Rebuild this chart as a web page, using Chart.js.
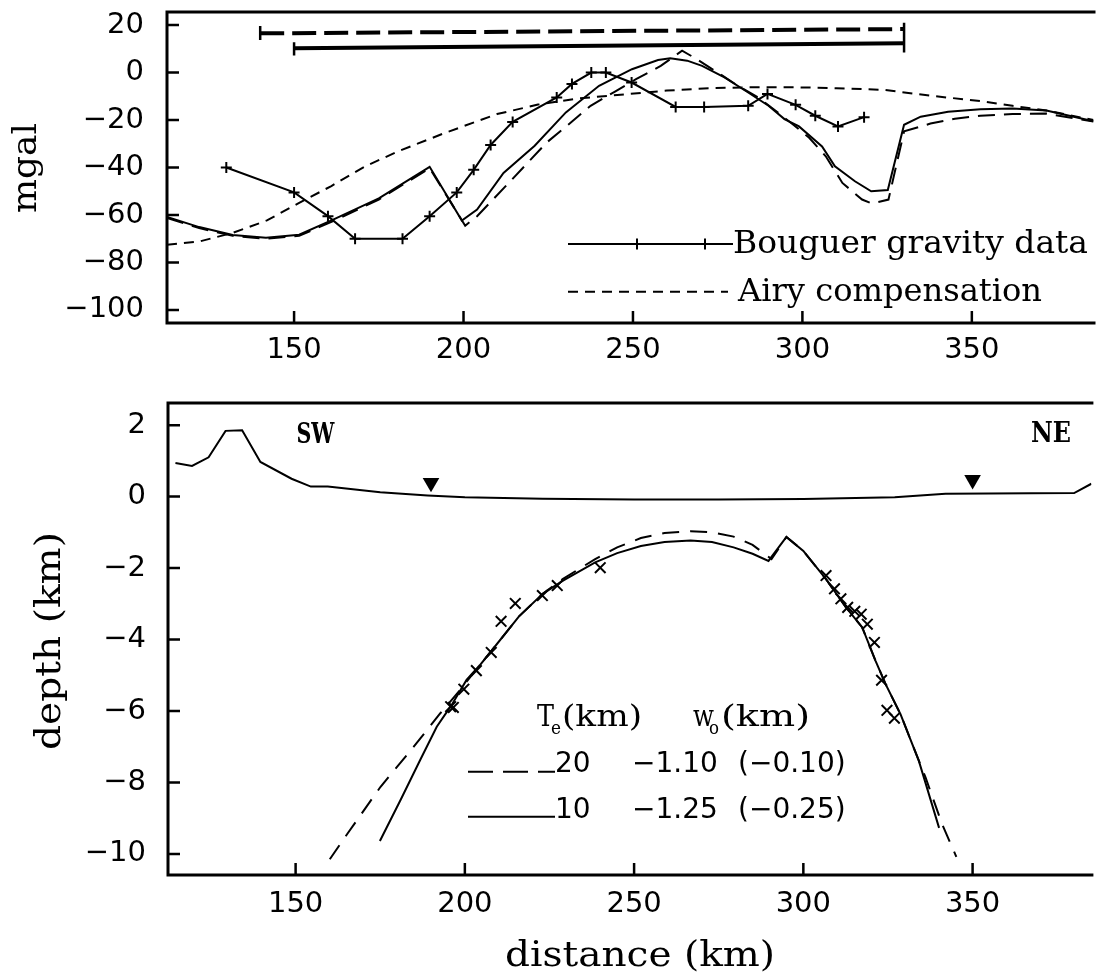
<!DOCTYPE html>
<html><head><meta charset="utf-8">
<script src="https://cdn.jsdelivr.net/npm/chart.js@4.4.1/dist/chart.umd.min.js"></script>
<style>
html,body{margin:0;padding:0;background:#fff;overflow:hidden;}
#wrapTop{position:absolute;left:0;top:0;width:1101px;height:370px;}
#wrapBot{position:absolute;left:0;top:380px;width:1101px;height:596px;}
canvas{display:block;}
</style></head><body>
<div id="wrapTop"><canvas id="cTop" width="1101" height="370"></canvas></div>
<div id="wrapBot"><canvas id="cBot" width="1101" height="596"></canvas></div>
<script>
// ---------- tick labels ----------
const distTicks = [150, 200, 250, 300, 350];
const gravTicks = [20, 0, -20, -40, -60, -80, -100];
const depthTicks = [2, 0, -2, -4, -6, -8, -10];

// ---------- top panel: gravity (mgal) ----------
const bouguerDist = [130,150,160,168,182,190,198,203,208,214.5,227.5,232,237.7,242,249.6,262.6,271,284,289.7,298,303.8,310.5,318.2];
const bouguerGrav = [-40,-50.5,-60.5,-70,-70,-60.5,-50.5,-41,-30.5,-20.8,-10.5,-4.8,0,0,-4.2,-14.5,-14.5,-14,-9,-13.6,-18.2,-22.7,-18.8];

const airyDist = [112.5,122,132,142,151.5,161,171,180.7,194.4,209.9,222,233.3,248.9,260,272.3,285,297.7,310,324,338,352.5,362,372,385.9];
const airyGrav = [-72.5,-71.2,-67.5,-62.3,-54.9,-47.8,-39.5,-33.2,-25.5,-17.5,-13.5,-11,-9,-7.6,-6.6,-6.2,-6.2,-6.6,-7.3,-9.8,-12,-14,-16,-20];

const model10Dist = [112.5,122,131.9,141.7,151.5,161.2,175,190,199.5,204,211.8,221,230.2,240,249.7,257.4,261,266,270.4,277,284,290,294.7,299,305.8,309.6,315.5,320.3,325.2,330,334.9,343,352.5,362,372,385.9];
const model10Grav = [-60.8,-65.1,-68.4,-69.6,-68.3,-62.2,-53,-39.7,-62.3,-57.7,-42.3,-30.8,-16.8,-5.6,1.4,5.3,6,5,2.8,-2,-8.4,-14,-19.6,-22.7,-31.1,-39.5,-45.8,-50,-49.5,-22,-18.6,-16.5,-15.5,-15.2,-16,-20.5];

const model20Dist = [112.5,122,131.9,141.7,151.5,161.2,175,190,200.5,204,213.8,224.6,230.9,237.5,244.7,250.9,258.2,264.5,268.4,275,281,287,292,297.7,302,306.9,311.8,317.6,320.5,325.4,330,337.8,345,352.5,362,372,385.9];
const model20Grav = [-61.3,-65.5,-68.8,-70,-68.8,-62.8,-53.5,-40.3,-64.5,-60.5,-45.8,-29.4,-22,-14,-8,-2.8,2.8,9.2,6,0,-5.6,-10.5,-16,-22.4,-27.5,-35.3,-46.5,-53.5,-55.2,-53.5,-24.8,-21.5,-19.5,-18.2,-17.5,-17.3,-20.6];

const barDashedDist = [140, 330];
const barDashedGrav = [16.5, 18.3];
const barSolidDist = [150, 330];
const barSolidGrav = [10.2, 12.3];
const capDist = [140, 150, 330];
const capLow = [13.7, 7.2, 8.4];
const capHigh = [19.6, 12.8, 21];

// ---------- bottom panel: depth (km) ----------
const topoDist = [114.5,119.4,124.3,129.3,134.2,139.6,148.8,154.5,159.5,175,189,200,223,250,275,300,327,342,380,385.1];
const topoElev = [0.94,0.86,1.1,1.84,1.86,0.97,0.5,0.28,0.28,0.12,0.03,-0.02,-0.06,-0.08,-0.08,-0.07,-0.02,0.08,0.1,0.36];

const flex20Dist = [160.1,165.4,175.1,184.9,192.7,198.5,204.4,208,216,223,229,238.5,245,252,259,266.7,273,279.4,285,290.6,295,300,306.7,312.6,317.4,321.3,324.3,328.7,336.1,341,345.2];
const flex20Depth = [-10.15,-9.42,-8.12,-7.0,-6.07,-5.42,-4.72,-4.3,-3.35,-2.72,-2.3,-1.75,-1.42,-1.16,-1.02,-0.97,-1.0,-1.12,-1.35,-1.75,-1.13,-1.52,-2.31,-3.1,-3.66,-4.59,-5.25,-6.09,-7.86,-9.17,-10.08];

const flex10Dist = [174.9,181,186.8,191.7,196.1,200.5,204.4,208,216,223,229,238.5,245,252,259,266.7,273,279.4,285,289.7,295,300,306.7,312.6,317.4,321.3,324.3,328.7,334.1,340.1];
const flex10Depth = [-9.64,-8.49,-7.37,-6.44,-5.83,-5.13,-4.72,-4.3,-3.35,-2.72,-2.35,-1.84,-1.58,-1.38,-1.27,-1.23,-1.27,-1.42,-1.6,-1.8,-1.13,-1.52,-2.31,-3.1,-3.66,-4.59,-5.25,-6.09,-7.39,-9.27];

const obsDist = [195.8,196.6,199.7,203.4,207.8,210.7,214.9,222.9,227.3,240,306.7,309.2,311.1,313.1,315.2,317.1,318.9,321,323.1,324.7,326.9];
const obsDepth = [-5.88,-5.9,-5.39,-4.87,-4.36,-3.49,-2.99,-2.77,-2.49,-1.99,-2.21,-2.58,-2.86,-3.1,-3.21,-3.29,-3.57,-4.08,-5.14,-5.98,-6.2];

const markDist = [190, 350];
const markElev = [0.39, 0.47];

// ---------- helpers ----------
const zip = (xs, ys) => xs.map((x, i) => ({x: x, y: ys[i]}));
const fmt = v => (v < 0 ? '\u2212' + Math.abs(v) : String(v));
const BLACK = '#000';

// draws text so that it spans width w (horizontal stretch), optional rotation
function fitText(ctx, text, x, y, w, font, align, rot) {
  ctx.save();
  ctx.font = font;
  ctx.fillStyle = BLACK;
  ctx.textBaseline = 'alphabetic';
  ctx.textAlign = 'left';
  const nat = ctx.measureText(text).width;
  ctx.translate(x, y);
  if (rot) ctx.rotate(rot);
  const total = w || nat;
  const ox = align === 'center' ? -total / 2 : (align === 'right' ? -total : 0);
  ctx.translate(ox, 0);
  ctx.scale(total / nat, 1);
  ctx.fillText(text, 0, 0);
  ctx.restore();
  return total;
}

function drawFrame(chart, tickLen) {
  const {ctx, chartArea: a, scales: {x, y}} = chart;
  ctx.save();
  ctx.strokeStyle = BLACK;
  ctx.lineCap = 'butt';
  ctx.lineWidth = 3;
  ctx.beginPath();
  ctx.moveTo(a.left, a.top); ctx.lineTo(a.right + 2, a.top);
  ctx.moveTo(a.left, a.top - 1.5); ctx.lineTo(a.left, a.bottom + 1.5);
  ctx.moveTo(a.left, a.bottom); ctx.lineTo(a.right + 2, a.bottom);
  ctx.stroke();
  ctx.lineWidth = 2.5;
  ctx.beginPath();
  x.ticks.forEach(t => {
    const px = x.getPixelForValue(t.value);
    ctx.moveTo(px, a.bottom); ctx.lineTo(px, a.bottom - tickLen);
  });
  y.ticks.forEach(t => {
    const py = y.getPixelForValue(t.value);
    ctx.moveTo(a.left, py); ctx.lineTo(a.left + tickLen, py);
  });
  ctx.stroke();
  ctx.restore();
}

function lineDs(xs, ys, width, dash) {
  return {data: zip(xs, ys), showLine: true, borderColor: BLACK, borderWidth: width,
          borderDash: dash || [], pointRadius: 0, fill: false, tension: 0};
}

const TICK_FONT = {family: 'DejaVu Sans', size: 29, lineHeight: 1.2};
function scaleX(min, max, h, pad) {
  return {
    type: 'linear', min: min, max: max,
    grid: {display: false}, border: {display: false},
    afterBuildTicks: s => { s.ticks = distTicks.map(v => ({value: v})); },
    afterFit: s => { s.height = h; s.paddingLeft = 0; s.paddingRight = 0; },
    ticks: {color: BLACK, font: TICK_FONT, padding: pad, maxRotation: 0, autoSkip: false, callback: v => fmt(v)}
  };
}
function scaleY(min, max, tickVals, w, pad) {
  return {
    type: 'linear', min: min, max: max,
    grid: {display: false}, border: {display: false},
    afterBuildTicks: s => { s.ticks = tickVals.map(v => ({value: v})); },
    afterFit: s => { s.width = w; s.paddingTop = 0; s.paddingBottom = 0; },
    ticks: {color: BLACK, font: TICK_FONT, padding: pad, autoSkip: false, callback: v => fmt(v)}
  };
}

const commonPlugins = {legend: {display: false}, tooltip: {enabled: false}, title: {display: false}};

// ---------- top chart ----------
const capSets = capDist.map((d, i) => lineDs([d, d], [capLow[i], capHigh[i]], 2.5));

const topDecor = {
  id: 'topDecor',
  afterDraw(chart) {
    const ctx = chart.ctx;
    drawFrame(chart, 12);
    fitText(ctx, 'mgal', 36, 168, 90, '33px "DejaVu Serif"', 'center', -Math.PI / 2);
    ctx.save();
    ctx.strokeStyle = BLACK; ctx.lineWidth = 2;
    ctx.beginPath(); ctx.moveTo(568, 244); ctx.lineTo(733, 244);
    [637, 705].forEach(px => { ctx.moveTo(px, 238.5); ctx.lineTo(px, 249.5); ctx.moveTo(px - 5, 244); ctx.lineTo(px + 5, 244); });
    ctx.stroke();
    ctx.setLineDash([10, 7]);
    ctx.beginPath(); ctx.moveTo(568, 291.7); ctx.lineTo(728, 291.7); ctx.stroke();
    ctx.restore();
    fitText(ctx, 'Bouguer gravity data', 733, 253, 355, '31px "DejaVu Serif"', 'left');
    fitText(ctx, 'Airy compensation', 738, 301, 304, '31px "DejaVu Serif"', 'left');
  }
};

new Chart(document.getElementById('cTop'), {
  type: 'scatter',
  data: {datasets: [
    Object.assign(lineDs(bouguerDist, bouguerGrav, 2), {pointStyle: 'cross', pointRadius: 5.5, pointBorderWidth: 2, pointBorderColor: BLACK}),
    lineDs(airyDist, airyGrav, 2, [10, 7]),
    lineDs(model10Dist, model10Grav, 2),
    lineDs(model20Dist, model20Grav, 2, [17, 9]),
    lineDs(barDashedDist, barDashedGrav, 4, [24, 8]),
    lineDs(barSolidDist, barSolidGrav, 4),
    ...capSets
  ]},
  options: {
    responsive: false, maintainAspectRatio: false, animation: false, devicePixelRatio: 1,
    layout: {padding: {top: 12, left: 0, right: 0, bottom: 0}},
    plugins: commonPlugins,
    scales: {x: scaleX(112.5, 385.9, 47, 2), y: scaleY(-105.5, 25.5, gravTicks, 167, 15)}
  },
  plugins: [topDecor]
});

// ---------- bottom chart ----------
const OFF = 380;
const botDecor = {
  id: 'botDecor',
  afterDraw(chart) {
    const ctx = chart.ctx;
    drawFrame(chart, 12);
    fitText(ctx, 'depth (km)', 60, 641 - OFF, 218, '36px "DejaVu Serif"', 'center', -Math.PI / 2);
    fitText(ctx, 'distance (km)', 640, 966 - OFF, 270, '36px "DejaVu Serif"', 'center');
    fitText(ctx, 'SW', 315.5, 443 - OFF, 38, 'bold 28px "DejaVu Serif"', 'center');
    fitText(ctx, 'NE', 1051, 441.7 - OFF, 40, 'bold 28px "DejaVu Serif"', 'center');
    // legend header
    const serif = '29px "DejaVu Serif"';
    fitText(ctx, 'T', 537, 726 - OFF, 17, serif, 'left');
    fitText(ctx, 'e', 551, 734 - OFF, 10, '19px "DejaVu Serif"', 'left');
    fitText(ctx, '(km)', 562, 726 - OFF, 80, serif, 'left');
    fitText(ctx, 'w', 693, 726 - OFF, 21, serif, 'left');
    fitText(ctx, 'o', 709, 734 - OFF, 10, '19px "DejaVu Serif"', 'left');
    fitText(ctx, '(km)', 721, 726 - OFF, 89, serif, 'left');
    // legend rows
    ctx.save();
    ctx.strokeStyle = BLACK; ctx.lineWidth = 2;
    ctx.setLineDash([25, 10]);
    ctx.beginPath(); ctx.moveTo(468, 771.7 - OFF); ctx.lineTo(555, 771.7 - OFF); ctx.stroke();
    ctx.setLineDash([]);
    ctx.beginPath(); ctx.moveTo(468, 816.7 - OFF); ctx.lineTo(555, 816.7 - OFF); ctx.stroke();
    ctx.restore();
    const sans = '28px "DejaVu Sans"';
    fitText(ctx, '20', 555, 772 - OFF, 0, sans, 'left');
    fitText(ctx, '\u22121.10', 632, 772 - OFF, 0, sans, 'left');
    fitText(ctx, '(\u22120.10)', 738, 772 - OFF, 0, sans, 'left');
    fitText(ctx, '10', 555, 818.3 - OFF, 0, sans, 'left');
    fitText(ctx, '\u22121.25', 632, 818.3 - OFF, 0, sans, 'left');
    fitText(ctx, '(\u22120.25)', 738, 818.3 - OFF, 0, sans, 'left');
  }
};

new Chart(document.getElementById('cBot'), {
  type: 'scatter',
  data: {datasets: [
    lineDs(topoDist, topoElev, 2),
    lineDs(flex20Dist, flex20Depth, 2, [17, 11]),
    lineDs(flex10Dist, flex10Depth, 2),
    {data: zip(obsDist, obsDepth), showLine: false, pointStyle: 'crossRot', pointRadius: 7.5,
     pointBorderWidth: 2, pointBorderColor: BLACK, borderColor: BLACK},
    {data: zip(markDist, markElev), showLine: false, pointStyle: 'triangle', rotation: 180,
     pointRadius: 9.6, pointBorderWidth: 0, pointBackgroundColor: BLACK, borderColor: BLACK}
  ]},
  options: {
    responsive: false, maintainAspectRatio: false, animation: false, devicePixelRatio: 1,
    layout: {padding: {top: 23, left: 0, right: 0, bottom: 0}},
    plugins: commonPlugins,
    scales: {x: scaleX(112.3, 385.1, 101, 4), y: scaleY(-10.59, 2.62, depthTicks, 168, 14)}
  },
  plugins: [botDecor]
});
</script>
</body></html>
